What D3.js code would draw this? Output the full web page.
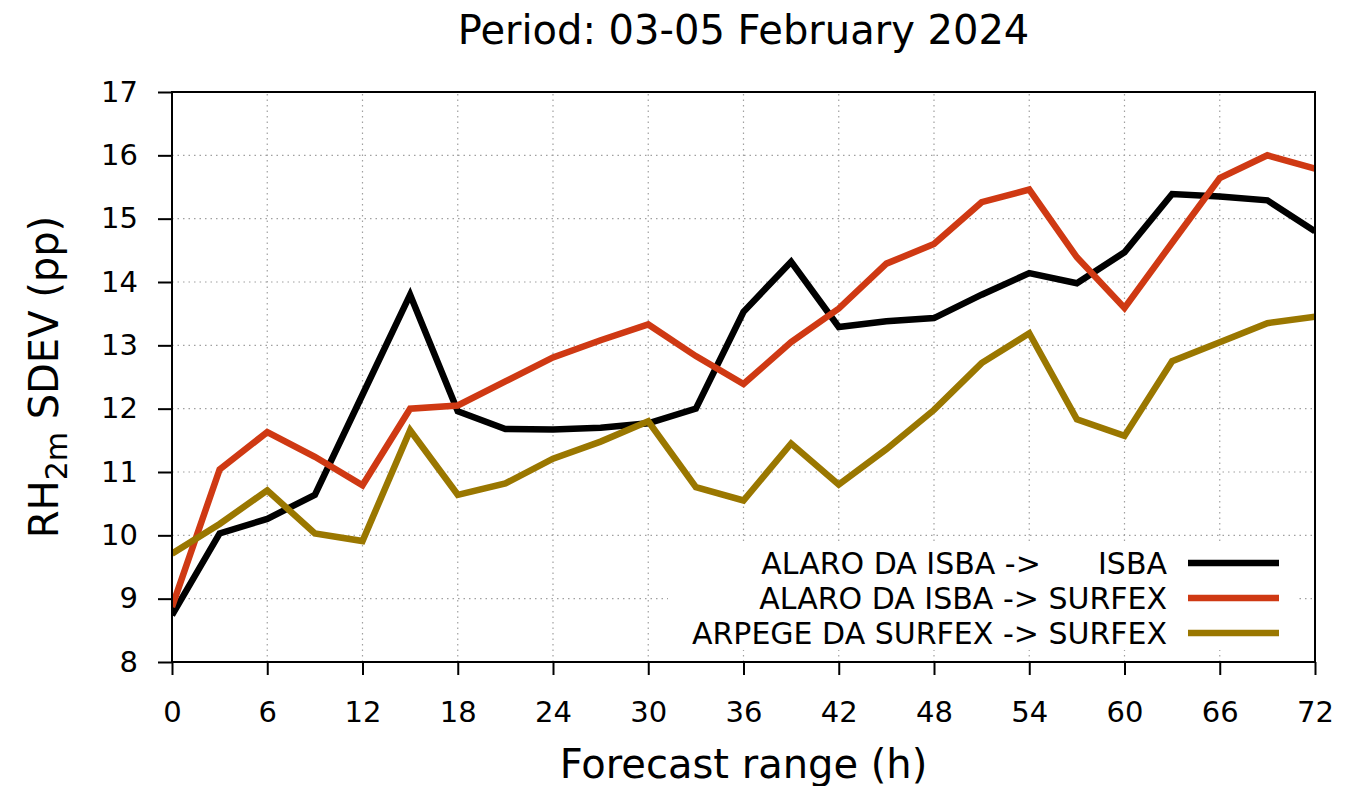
<!DOCTYPE html>
<html>
<head>
<meta charset="utf-8">
<script src="https://cdn.jsdelivr.net/npm/d3@7"></script>
<style>
  html, body { margin: 0; padding: 0; background: #fff; }
  text { font-family: "DejaVu Sans", sans-serif; fill: #000; }
</style>
</head>
<body>
<div id="chart"></div>
<script>
// forecast range (h), every 3 h
const hours = [0, 3, 6, 9, 12, 15, 18, 21, 24, 27, 30, 33, 36, 39, 42, 45, 48, 51, 54, 57, 60, 63, 66, 69, 72]

const isbaIsba = [8.74, 10.03, 10.26, 10.64, 12.22, 13.80, 11.96, 11.68, 11.67, 11.70, 11.77, 12.00, 13.53,
    14.32, 13.29, 13.38, 13.43, 13.80, 14.14, 13.98, 14.47, 15.39, 15.35, 15.29, 14.80]
const isbaSurfex = [8.87, 11.04, 11.63, 11.24, 10.79, 12.00, 12.05, 12.43, 12.81, 13.08, 13.33, 12.83, 12.39,
    13.05, 13.58, 14.29, 14.60, 15.26, 15.46, 14.39, 13.59, 14.62, 15.64, 16.00, 15.79]
const arpegeSurfex = [9.71, 10.18, 10.71, 10.03, 9.91, 11.66, 10.64, 10.82, 11.21, 11.48, 11.80, 10.76, 10.55,
    11.45, 10.80, 11.36, 11.98, 12.72, 13.19, 11.83, 11.57, 12.75, 13.05, 13.35, 13.45]

const seriesNames = ['ALARO DA ISBA ->      ISBA', 'ALARO DA ISBA -> SURFEX', 'ARPEGE DA SURFEX -> SURFEX']
const seriesColors = ['#000000', '#cf3913', '#9a7700']

const xTicks = d3.range(0, 73, 6)
const yTicks = d3.range(8, 18, 1)

const width = 1368, height = 786
const margin = { left: 172, right: 53, top: 92, bottom: 124 }

const svg = d3.select('#chart').append('svg')
    .attr('width', width)
    .attr('height', height)

const x = d3.scaleLinear().domain([0, 72]).range([margin.left, width - margin.right])
const y = d3.scaleLinear().domain([8, 17]).range([height - margin.bottom, margin.top])

// dotted grid
const grid = svg.append('g')
    .attr('stroke', '#a0a0a0')
    .attr('stroke-width', 1.2)
    .attr('stroke-dasharray', '1.5,4')
grid.selectAll('.gx').data(xTicks.slice(1, -1)).join('line')
    .attr('x1', d => x(d)).attr('x2', d => x(d))
    .attr('y1', y(8)).attr('y2', y(17))
grid.selectAll('.gy').data(yTicks.slice(1, -1)).join('line')
    .attr('x1', x(0)).attr('x2', x(72))
    .attr('y1', d => y(d)).attr('y2', d => y(d))

// opaque key box hides the grid behind it
svg.append('rect')
    .attr('x', 668).attr('y', 542)
    .attr('width', 630).attr('height', 108)
    .attr('fill', '#fff')

// axes
const xAxis = svg.append('g')
    .attr('transform', `translate(0,${y(8)})`)
    .call(d3.axisBottom(x).tickValues(xTicks).tickSize(13).tickPadding(26).tickSizeOuter(0))
const yAxis = svg.append('g')
    .attr('transform', `translate(${x(0)},0)`)
    .call(d3.axisLeft(y).tickValues(yTicks).tickSize(14).tickPadding(20).tickSizeOuter(0))

for (const ax of [xAxis, yAxis]) {
    ax.select('.domain').remove()
    ax.selectAll('line').attr('stroke', '#000').attr('stroke-width', 2)
    ax.selectAll('text').attr('font-size', 29).attr('font-family', '"DejaVu Sans", sans-serif')
}
xAxis.selectAll('text').attr('dy', '0.71em')

// data lines
const line = d3.line()
    .x((d, i) => x(hours[i]))
    .y(d => y(d))

const allSeries = [isbaIsba, isbaSurfex, arpegeSurfex]
svg.append('defs').append('clipPath').attr('id', 'clip')
    .append('rect')
    .attr('x', x(0)).attr('y', y(17))
    .attr('width', x(72) - x(0)).attr('height', y(8) - y(17))

svg.append('g').attr('clip-path', 'url(#clip)')
    .selectAll('path').data(allSeries).join('path')
    .attr('d', line)
    .attr('fill', 'none')
    .attr('stroke', (d, i) => seriesColors[i])
    .attr('stroke-width', 6.5)
    .attr('stroke-linejoin', 'miter')

// frame
svg.append('rect')
    .attr('x', x(0)).attr('y', y(17))
    .attr('width', x(72) - x(0)).attr('height', y(8) - y(17))
    .attr('fill', 'none')
    .attr('stroke', '#000')
    .attr('stroke-width', 2)

// key
const key = svg.append('g')
seriesNames.forEach((name, i) => {
    const ky = 563 + i * 35
    key.append('text')
        .attr('x', 1167)
        .attr('y', ky)
        .attr('dy', '0.35em')
        .attr('text-anchor', 'end')
        .attr('font-size', 30)
        .style('white-space', 'pre')
        .text(name)
    key.append('line')
        .attr('x1', 1188).attr('x2', 1279)
        .attr('y1', ky).attr('y2', ky)
        .attr('stroke', seriesColors[i])
        .attr('stroke-width', 6.5)
})

// titles
svg.append('text')
    .attr('x', (x(0) + x(72)) / 2)
    .attr('y', 44)
    .attr('text-anchor', 'middle')
    .attr('font-size', 40)
    .text('Period: 03-05 February 2024')

svg.append('text')
    .attr('x', (x(0) + x(72)) / 2)
    .attr('y', 778)
    .attr('text-anchor', 'middle')
    .attr('font-size', 40)
    .text('Forecast range (h)')

const yLabel = svg.append('text')
    .attr('transform', `translate(58,${(y(8) + y(17)) / 2}) rotate(-90)`)
    .attr('text-anchor', 'middle')
    .attr('font-size', 40)
yLabel.append('tspan').text('RH')
yLabel.append('tspan').attr('font-size', 30).attr('dy', 9).text('2m')
yLabel.append('tspan').attr('dy', -9).text(' SDEV (pp)')
</script>
</body>
</html>
